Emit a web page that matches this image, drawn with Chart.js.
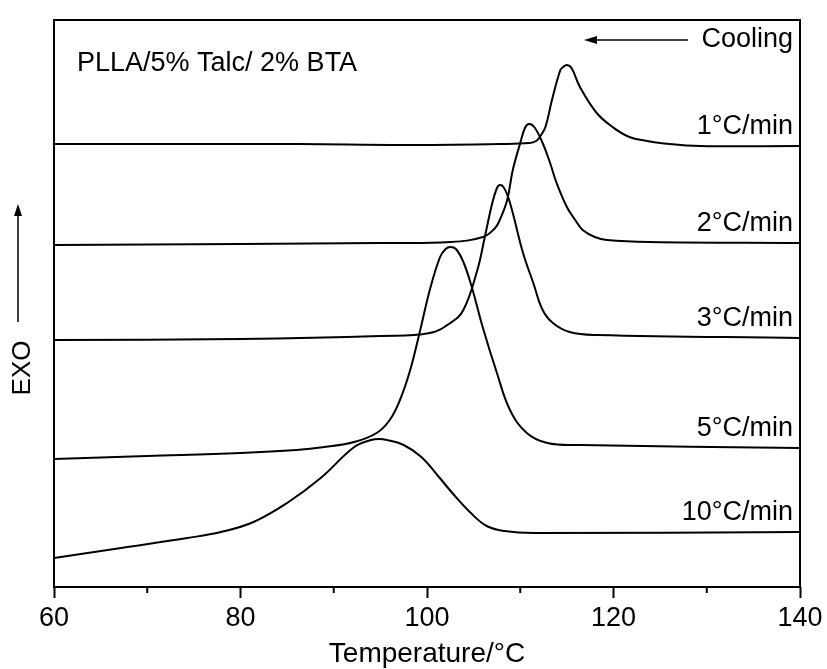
<!DOCTYPE html>
<html>
<head>
<meta charset="utf-8">
<script src="https://cdn.jsdelivr.net/npm/chart.js@4.4.1/dist/chart.umd.min.js"></script>
<style>
  body { margin: 0; background: #fff; }
  canvas { display: block; }
</style>
</head>
<body>
<canvas id="myChart" width="827" height="669"></canvas>
<script>
// DSC cooling curves, temperature (°C) vs heat flow (a.u., shifted per rate)
const rateLabels = ["1°C/min", "2°C/min", "3°C/min", "5°C/min", "10°C/min"];
const xTicks = [60, 80, 100, 120, 140];

const temp1 = [60, 75, 86.4, 97.5, 107.8, 111.0, 111.7, 112.1, 112.7, 113.4, 114.3, 114.6, 115.0, 115.5, 116.4, 118.2, 119.9, 121.7, 123.6, 125.0, 129.3, 140];
const heat1 = [443, 443, 443, 442, 443, 444, 446, 450, 460, 487, 517, 520, 522, 519, 500, 474, 460, 450, 446, 444, 441, 441];

const temp2 = [60, 80, 95, 102.5, 106.0, 107.3, 107.8, 108.6, 109.2, 110.0, 110.5, 110.9, 111.5, 112.4, 113.2, 113.9, 115.0, 115.9, 116.7, 118.0, 119.3, 123.9, 140];
const heat2 = [342, 343, 344, 345, 350, 359, 367, 387, 417, 444, 459, 463, 460, 444, 424, 404, 380, 367, 357, 350, 347, 345, 344];

const temp3 = [60, 80, 95, 100.3, 102.5, 103.9, 105.4, 106.2, 107.0, 107.5, 107.8, 108.2, 108.7, 109.2, 110.3, 111.4, 112.4, 113.5, 115.3, 118.2, 140];
const heat3 = [247, 248, 251, 254, 264, 277, 317, 350, 384, 399, 402, 400, 390, 374, 334, 304, 277, 264, 255, 252, 249];

const temp5 = [60, 70, 80, 86, 89, 92.2, 94.6, 96.0, 97.1, 98.2, 99.2, 100.3, 101.4, 102.0, 102.5, 103.1, 103.9, 104.8, 106.0, 107.5, 108.9, 110.7, 112.9, 116.4, 140];
const heat5 = [128, 131, 134, 137, 140, 145, 154, 167, 187, 217, 254, 297, 330, 338, 340, 338, 325, 300, 259, 214, 177, 154, 144, 142, 139];

const temp10 = [60, 67.2, 74.3, 77.9, 81.4, 85.0, 88.6, 92.2, 94.0, 94.9, 95.7, 97.5, 99.4, 101.1, 102.9, 104.7, 106.4, 108.3, 111.5, 140];
const heat10 = [29, 39, 49, 55, 65, 84, 109, 140, 147, 148, 147, 142, 130, 112, 92, 74, 61, 56, 54, 55];

const FONT = '"Liberation Sans", Arial, Helvetica, sans-serif';

const toPoints = (xs, ys) => xs.map((x, i) => ({ x: x, y: ys[i] }));

const series = [
  toPoints(temp1, heat1),
  toPoints(temp2, heat2),
  toPoints(temp3, heat3),
  toPoints(temp5, heat5),
  toPoints(temp10, heat10),
];

// frame, minor ticks and the texts / arrows on the figure
const decorPlugin = {
  id: "decor",
  afterDraw(chart) {
    const { ctx, chartArea: a, scales } = chart;
    ctx.save();
    ctx.strokeStyle = "#000";
    ctx.fillStyle = "#000";
    ctx.lineWidth = 2;
    ctx.strokeRect(a.left, a.top, a.right - a.left, a.bottom - a.top);

    // minor ticks
    [70, 90, 110, 130].forEach((v) => {
      const px = scales.x.getPixelForValue(v);
      ctx.beginPath();
      ctx.moveTo(px, a.bottom);
      ctx.lineTo(px, a.bottom + 6);
      ctx.stroke();
    });

    ctx.font = "27px " + FONT;
    ctx.textBaseline = "middle";

    // sample name
    ctx.textAlign = "left";
    ctx.fillText("PLLA/5% Talc/ 2% BTA", a.left + 23, a.top + 44);

    // cooling arrow
    ctx.textAlign = "right";
    ctx.fillText("Cooling", a.right - 7, a.top + 20);
    const ay = a.top + 20;
    ctx.lineWidth = 1.5;
    ctx.beginPath();
    ctx.moveTo(a.left + 634, ay);
    ctx.lineTo(a.left + 538, ay);
    ctx.stroke();
    ctx.beginPath();
    ctx.moveTo(a.left + 530, ay);
    ctx.lineTo(a.left + 543, ay - 4);
    ctx.lineTo(a.left + 543, ay + 4);
    ctx.closePath();
    ctx.fill();

    // rate labels above the right end of every curve
    chart.data.datasets.forEach((ds, i) => {
      const last = ds.data[ds.data.length - 1];
      const py = scales.y.getPixelForValue(last.y) - 19;
      ctx.fillText(rateLabels[i], a.right - 7, py);
    });

    // EXO with upward arrow
    const ex = a.left - 31;
    ctx.save();
    ctx.translate(ex, 368);
    ctx.rotate(-Math.PI / 2);
    ctx.textAlign = "center";
    ctx.font = "26px " + FONT;
    ctx.fillText("EXO", 0, 0);
    ctx.restore();
    const ax = a.left - 36;
    ctx.lineWidth = 1.5;
    ctx.beginPath();
    ctx.moveTo(ax, 322);
    ctx.lineTo(ax, 212);
    ctx.stroke();
    ctx.beginPath();
    ctx.moveTo(ax, 204);
    ctx.lineTo(ax - 4, 216);
    ctx.lineTo(ax + 4, 216);
    ctx.closePath();
    ctx.fill();
    ctx.restore();
  },
};

const ctx = document.getElementById("myChart");

new Chart(ctx, {
  type: "line",
  data: {
    datasets: series.map((pts, i) => ({
      label: rateLabels[i],
      data: pts,
      borderColor: "#000",
      borderWidth: 2,
      pointRadius: 0,
      fill: false,
      tension: 0.4,
    })),
  },
  options: {
    responsive: false,
    animation: false,
    devicePixelRatio: 1,
    layout: { padding: { left: 54, right: 27, top: 20, bottom: 0 } },
    plugins: { legend: { display: false }, tooltip: { enabled: false } },
    scales: {
      x: {
        type: "linear",
        min: 60,
        max: 140,
        afterBuildTicks: (s) => {
          s.ticks = [60, 70, 80, 90, 100, 110, 120, 130, 140].map((v) => ({ value: v }));
        },
        ticks: {
          autoSkip: false,
          maxRotation: 0,
          color: "#000",
          padding: 4,
          font: { family: FONT, size: 27 },
          callback: (v) => (xTicks.includes(v) ? String(v) : ""),
        },
        grid: {
          drawOnChartArea: false,
          drawTicks: true,
          tickLength: 11,
          tickWidth: 2,
          tickColor: (c) => (c.tick && xTicks.includes(c.tick.value) ? "#000" : "rgba(0,0,0,0)"),
        },
        border: { display: false },
        title: {
          display: true,
          text: "Temperature/°C",
          color: "#000",
          font: { family: FONT, size: 28, lineHeight: 1.05 },
          padding: { top: 0, bottom: 0 },
        },
        afterFit: (s) => { s.height = 82; },
      },
      y: {
        min: 0,
        max: 567,
        ticks: { display: false },
        grid: { display: false },
        border: { display: false },
        afterFit: (s) => { s.width = 0; },
      },
    },
  },
  plugins: [decorPlugin],
});
</script>
</body>
</html>
